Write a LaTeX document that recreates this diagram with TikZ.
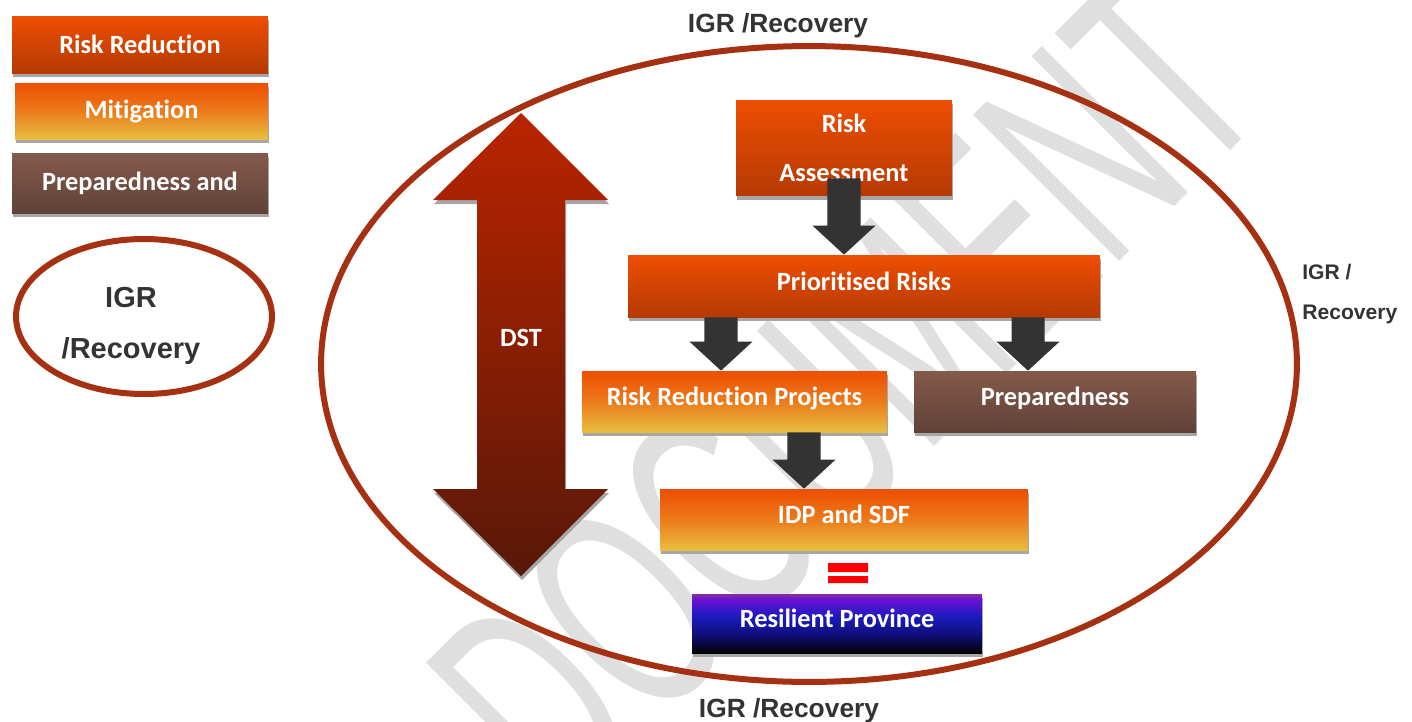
\documentclass[tikz,border=0pt]{standalone}
\usepackage{fontspec}
\setmainfont{Liberation Sans}
\newfontfamily\boxfont{Carlito}[Ligatures=NoCommon]
\newfontfamily\lblfont{Liberation Sans}
\usetikzlibrary{shapes.geometric,shadows,calc}
\definecolor{orngtop}{RGB}{238,78,2}
\definecolor{orngbot}{RGB}{181,58,4}
\definecolor{yllwbot}{RGB}{232,190,64}
\definecolor{browntop}{RGB}{132,90,74}
\definecolor{brownbot}{RGB}{96,66,56}
\definecolor{ringred}{RGB}{166,48,18}
\definecolor{dsttop}{RGB}{186,36,0}
\definecolor{dstbot}{RGB}{88,24,8}
\definecolor{blkarr}{RGB}{51,51,51}
\definecolor{igrgray}{RGB}{51,51,51}
\definecolor{resblue}{RGB}{26,28,190}
\definecolor{resviol}{RGB}{106,16,214}
\definecolor{respurp}{RGB}{128,48,160}
\definecolor{resnavy}{RGB}{14,14,120}
\definecolor{eqred}{RGB}{255,0,0}
\pgfdeclareverticalshading{resshade}{100bp}{color(0bp)=(black); color(25bp)=(black); color(40bp)=(resnavy); color(56bp)=(resblue); color(70bp)=(resviol); color(75bp)=(respurp); color(100bp)=(respurp)}
\newcommand{\blkarrow}[2]{\fill[blkarr] let \p1=(#1), \p2=(#2) in
 (\x2-9.4pt,\y1) -- (\x2+9.4pt,\y1) -- (\x2+9.4pt,\y2+16.5pt) -- (\x2+17.9pt,\y2+16.5pt)
 -- (\x2,\y2) -- (\x2-17.9pt,\y2+16.5pt) -- (\x2-9.4pt,\y2+16.5pt) -- cycle;}

\begin{document}
\begin{tikzpicture}[x=0.02cm,y=-0.02cm,
 boxtxt/.style={inner sep=0,text=white,font=\boxfont\bfseries\fontsize{15}{18}\selectfont},
 shdw/.style={drop shadow={shadow xshift=0.6pt,shadow yshift=-2.3pt,fill=black!35,opacity=1}},
 box/.style={boxtxt,shdw},
 hi/.style={text height=11pt,text depth=6pt},
 redbox/.style={box,top color=orngtop,bottom color=orngbot},
 ambbox/.style={box,top color=orngtop,bottom color=yllwbot,middle color=orngtop!60!yllwbot},
 brnbox/.style={box,top color=browntop,bottom color=brownbot},
 resbox/.style={box,shade,shading=resshade},
 ring/.style={draw=ringred,line width=0.12cm,ellipse,inner sep=0},
 igr/.style={inner sep=0,text=igrgray,font=\lblfont\bfseries\fontsize{15}{18}\selectfont},
 igrsmall/.style={igr,font=\lblfont\bfseries\fontsize{12}{23}\selectfont},
 igrbig/.style={igr,font=\lblfont\bfseries\fontsize{16.5}{29}\selectfont},
 wm/.style={inner sep=0,text=gray!25,font=\lblfont\fontsize{171}{171}\selectfont,rotate=45,xscale=0.58}]
\useasboundingbox (0,0) rectangle (1412,721);
\node[wm] (wm) at (845,390) {DOCUMENT};
\node[redbox,minimum width=5.12cm,minimum height=1.14cm] (lrr) at (140,44.5) {Risk Reduction};
\node[ambbox,minimum width=5.06cm,minimum height=1.12cm] (lmit) at (141.5,111) {Mitigation};
\node[brnbox,minimum width=5.12cm,minimum height=1.2cm] (lprep) at (140,183) {Preparedness and};
\node[ring,minimum width=5.12cm,minimum height=3.1cm] (lring) at (144,316.5) {};
\node[igrbig,align=center] (ligr) at (131,326) {IGR\\/Recovery};
\node[ring,minimum width=19.52cm,minimum height=12.72cm] (ring) at (809,364) {};
\node[igr] (igrtop) at (778,25.5) {IGR /Recovery};
\node[igr] (igrbot) at (789,710.5) {IGR /Recovery};
\node[igrsmall,align=left,anchor=west] (igrside) at (1302,294) {IGR /\\Recovery};
\path[shdw,top color=dsttop,bottom color=dstbot] (521,113) -- (608,200) -- (565,200) -- (565,489) -- (608,489)
 -- (521,576) -- (433,489) -- (477,489) -- (477,200) -- (433,200) -- cycle;
\node[boxtxt] (dst) at (521,338) {DST};
\node[redbox,minimum width=4.32cm,minimum height=1.92cm,align=center,font=\boxfont\bfseries\fontsize{15}{28}\selectfont] (ra) at (844,148) {Risk\\Assessment};
\node[redbox,hi,minimum width=9.44cm,minimum height=1.24cm] (pr) at (864,286) {Prioritised Risks};
\node[ambbox,hi,minimum width=6.1cm,minimum height=1.22cm] (rrp) at (734.5,401.5) {Risk Reduction Projects};
\node[brnbox,hi,minimum width=5.64cm,minimum height=1.22cm] (prep) at (1055,401.5) {Preparedness};
\node[ambbox,hi,minimum width=7.36cm,minimum height=1.22cm] (idp) at (844,519.5) {IDP and SDF};
\node[resbox,hi,minimum width=5.8cm,minimum height=1.18cm] (res) at (837,623.5) {Resilient Province};
\blkarrow{$(ra.south)+(0,-18)$}{ra.south |- pr.north}
\blkarrow{pr.south}{$(rrp.north)+(-13.5,0)$}
\blkarrow{pr.south}{$(prep.north)+(-27,0)$}
\blkarrow{rrp.south}{$(idp.north)+(-40,0)$}
\fill[eqred] (828,563) rectangle (868,572) (828,576) rectangle (868,583);
\end{tikzpicture}
\end{document}
